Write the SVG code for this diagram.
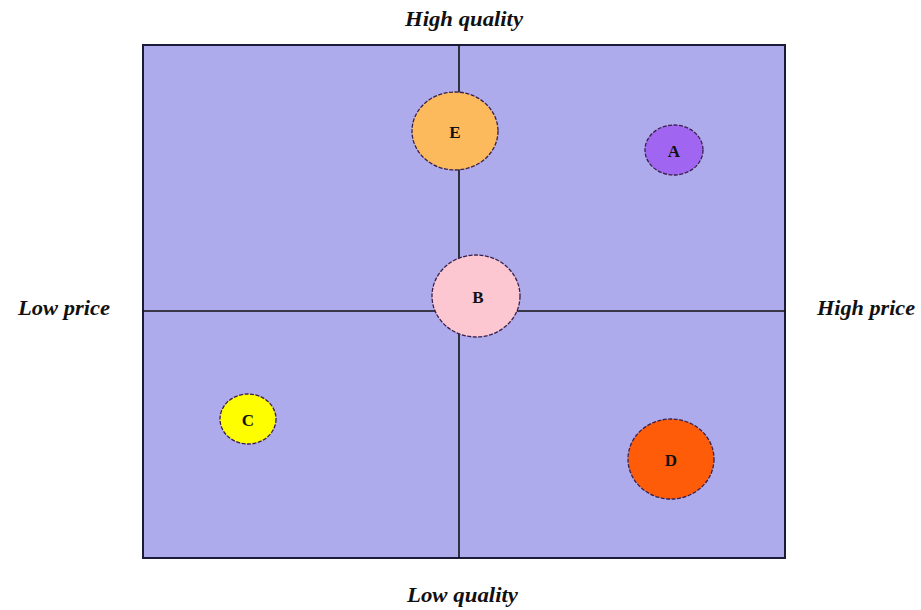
<svg xmlns="http://www.w3.org/2000/svg" width="921" height="610" viewBox="0 0 921 610">
<style>
.lbl{font-family:"Liberation Serif","Times New Roman",serif;font-weight:bold;font-style:italic;font-size:20px;fill:#111}
.nl{font-family:"Liberation Serif","Times New Roman",serif;font-weight:bold;font-size:17px;fill:#111;text-anchor:middle}
.bub{stroke:#3a1f4a;stroke-width:1.3;stroke-dasharray:4 1.5}
.ax{stroke:#111;stroke-width:1.6}
</style>
<rect width="921" height="610" fill="#ffffff"/>
<rect x="143" y="45" width="642" height="513" fill="#aeabec" stroke="#1a1a3a" stroke-width="2"/>
<g id="connectors">
<line class="ax" x1="459" y1="45" x2="459" y2="558"/>
<line class="ax" x1="143" y1="311" x2="785" y2="311"/>
</g>
<g id="E"><ellipse class="bub" cx="455" cy="131" rx="43" ry="39" fill="#fdba5c"/><text class="nl" x="455" y="138">E</text></g>
<g id="A"><ellipse class="bub" cx="674" cy="150" rx="29" ry="25" fill="#a066f2"/><text class="nl" x="674" y="157">A</text></g>
<g id="B"><ellipse class="bub" cx="476" cy="296" rx="44" ry="41" fill="#fcc7d0"/><text class="nl" x="478" y="303">B</text></g>
<g id="C"><ellipse class="bub" cx="248" cy="419" rx="28" ry="25" fill="#fefe00"/><text class="nl" x="248" y="426">C</text></g>
<g id="D"><ellipse class="bub" cx="671" cy="459" rx="43" ry="40" fill="#ff5c0a"/><text class="nl" x="671" y="466">D</text></g>
<text class="lbl" x="405" y="26" textLength="118" lengthAdjust="spacingAndGlyphs">High quality</text>
<text class="lbl" x="407" y="602" textLength="111" lengthAdjust="spacingAndGlyphs">Low quality</text>
<text class="lbl" x="18" y="315" textLength="92" lengthAdjust="spacingAndGlyphs">Low price</text>
<text class="lbl" x="817" y="315" textLength="98" lengthAdjust="spacingAndGlyphs">High price</text>
</svg>
